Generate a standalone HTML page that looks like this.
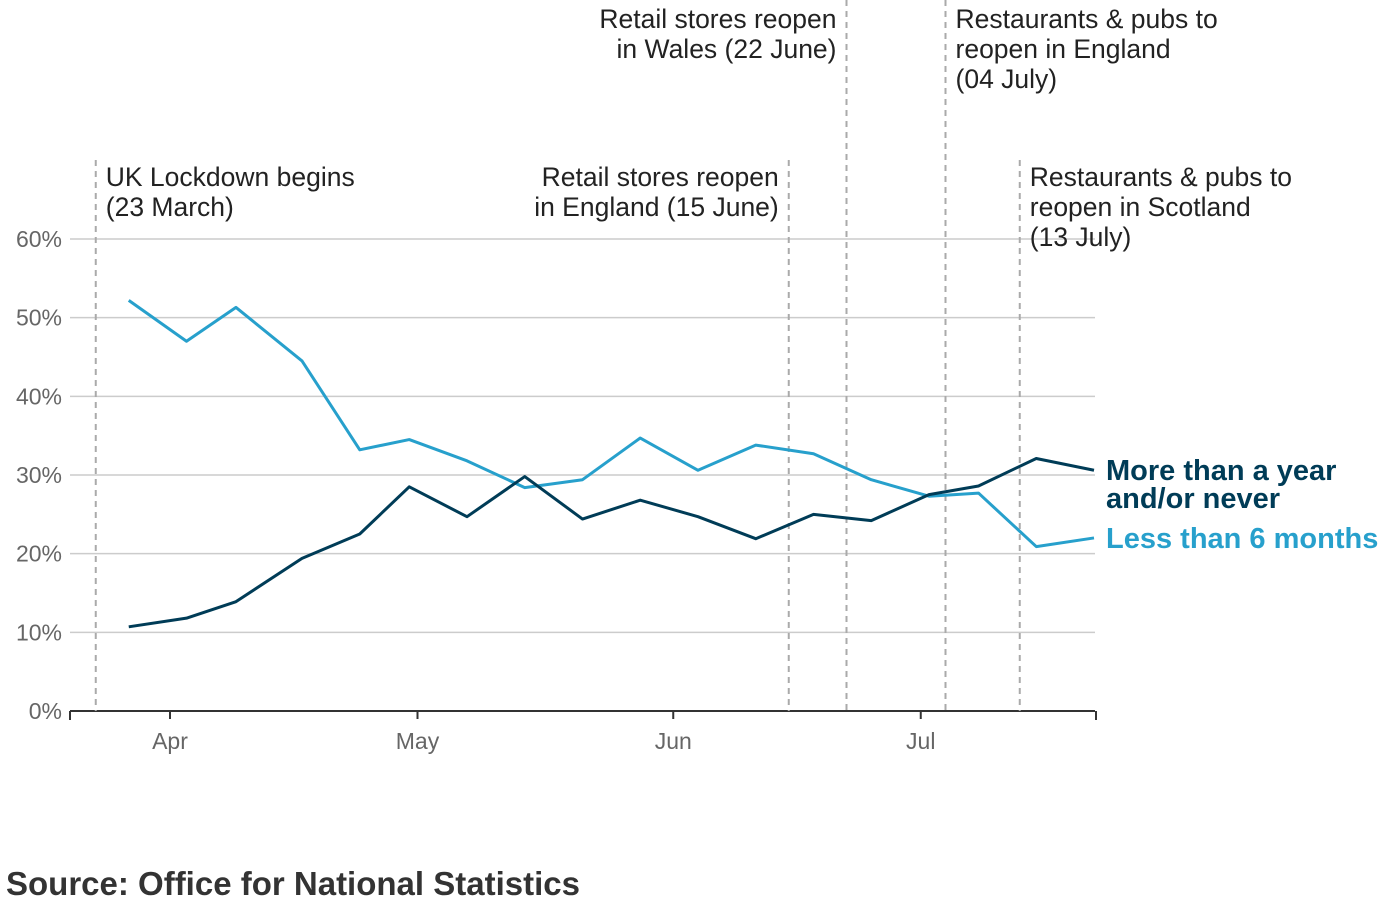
<!DOCTYPE html>
<html><head><meta charset="utf-8"><style>
body{margin:0;background:#fff;width:1400px;height:918px;overflow:hidden;font-family:"Liberation Sans",sans-serif}
</style></head><body>
<svg width="1400" height="918" id="c" font-family="Liberation Sans, sans-serif">
<text x="6" y="895" font-size="33" font-weight="bold" fill="#333">Source: Office for National Statistics</text>
</svg>
<script>
const days=[-5,2,8,16,23,29,36,43,50,57,64,71,78,85,92,98,105,112];
const lessThan6=[52.2,47,51.3,44.5,33.2,34.5,31.8,28.4,29.4,34.7,30.6,33.8,32.7,29.4,27.3,27.7,20.9,22];
const moreThanYear=[10.7,11.8,13.9,19.4,22.5,28.5,24.7,29.8,24.4,26.8,24.7,21.9,25,24.2,27.5,28.6,32.1,30.6];
const yTicks=[0,10,20,30,40,50,60];
const monthLabels=["Apr","May","Jun","Jul"];
const monthDays=[0,30,61,91];
const eventDays=[-9,75,82,94,103];
const eventTexts=[["UK Lockdown begins","(23 March)"],["Retail stores reopen","in England (15 June)"],["Retail stores reopen","in Wales (22 June)"],["Restaurants & pubs to","reopen in England","(04 July)"],["Restaurants & pubs to","reopen in Scotland","(13 July)"]];
const NS="http://www.w3.org/2000/svg",svg=document.getElementById('c');
const X=d=>170+d*8.25, Y=v=>711-v*7.867;
function mk(t,a,p){const e=document.createElementNS(NS,t);for(const k in a)e.setAttribute(k,a[k]);(p||svg).appendChild(e);return e;}
yTicks.forEach(v=>{
 const l=mk('line',{x1:70,x2:1095,y1:Y(v),y2:Y(v),stroke:v?'#ccc':'#333','stroke-width':v?1.5:2});
 
 
 const t=mk('text',{x:62,y:Y(v)+8,'text-anchor':'end','font-size':23,fill:'#666'});t.textContent=v+'%';
 
 
});
mk('line',{x1:70,x2:70,y1:711,y2:720,stroke:'#333','stroke-width':2});
mk('line',{x1:1096,x2:1096,y1:711,y2:720,stroke:'#333','stroke-width':2});
monthLabels.forEach((m,i)=>{
 mk('line',{x1:X(monthDays[i]),x2:X(monthDays[i]),y1:711,y2:719,stroke:'#333','stroke-width':2});
 const t=mk('text',{x:X(monthDays[i]),y:749,'text-anchor':'middle','font-size':23,fill:'#666'});t.textContent=m;
 
 
});
const tops=[160,160,0,0,160];
const anchors=['start','end','end','start','start'];
const textTop=[186,186,28,28,186];
eventDays.forEach((d,i)=>{
 const x=X(d);
 const l=mk('line',{x1:x,x2:x,y1:tops[i],y2:711,stroke:'#aaa','stroke-width':2,'stroke-dasharray':'6,5'});
 
 
 const tx=anchors[i]=='start'?x+10:x-10;
 eventTexts[i].forEach((s,j)=>{
  const t=mk('text',{x:tx,y:textTop[i]+j*30,'text-anchor':anchors[i],'font-size':26.5,fill:'#222'});t.textContent=s;
  
  
 });
});
function line(vals,col,name){
 const p=mk('polyline',{points:vals.map((v,i)=>X(days[i])+','+Y(v)).join(' '),fill:'none',stroke:col,'stroke-width':3,'stroke-linejoin':'round'});
 
 
}
line(lessThan6,'#27a0cc','line-less-than-6-months');
line(moreThanYear,'#003c57','line-more-than-a-year');
const l1=mk('text',{x:1106,y:480,'font-size':29,'font-weight':'bold',fill:'#003c57'});
l1.innerHTML='<tspan x="1106">More than a year</tspan><tspan x="1106" dy="28">and/or never</tspan>';


const l2=mk('text',{x:1106,y:548,'font-size':29,'font-weight':'bold',fill:'#27a0cc'});l2.textContent='Less than 6 months';


</script>
</body></html>
